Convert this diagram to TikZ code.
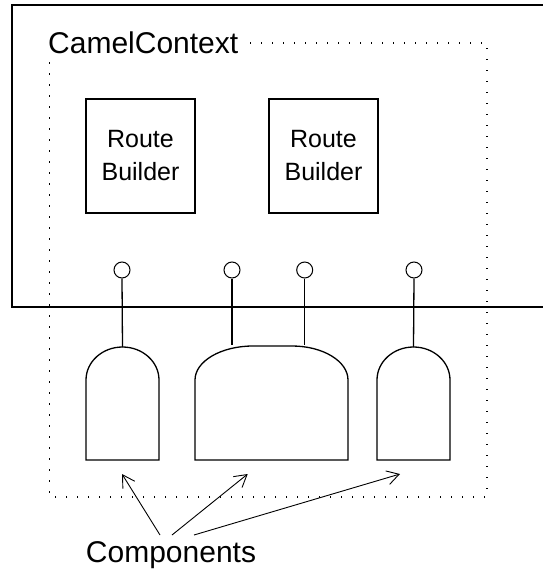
\documentclass[tikz,border=0pt]{standalone}
\usepackage{fontspec}
\setmainfont{Liberation Sans}
\usetikzlibrary{arrows.meta}
\begin{document}
\begin{tikzpicture}[x=1pt,y=-1pt,
  frame/.style={line width=1.5pt},
  routebox/.style={draw,line width=1.3pt,minimum width=109pt,minimum height=114pt,
    inner sep=0pt,align=center,font=\fontsize{25}{33}\selectfont},
  port/.style={circle,draw,line width=1pt,minimum size=16pt,inner sep=0pt},
  comp/.style={draw,line width=1.3pt},
  wire/.style={line width=1.3pt},
  pointer/.style={line width=0.9pt,-{Straight Barb[length=12pt,width=14pt,line width=0.9pt]}},
  big/.style={font=\fontsize{30}{36}\selectfont,inner sep=0pt}]
\useasboundingbox (0,0) rectangle (542,570);
\fill[white] (0,0) rectangle (542,570);

% solid context frame, open to the right
\draw[frame] (543,5) -- (12,5) -- (12,307) -- (543,307);

% dotted boundary of the CamelContext
\draw[line width=1.1pt,dash pattern=on 1.1pt off 9.9pt]
  (250,43) -- (487,43) -- (487,497) -- (49.5,497) -- (49.5,62);
\node[big,anchor=base west] (ctx) at (48,53) {CamelContext};

% route builders
\node[routebox] (rb1) at (140.5,156) {Route\\Builder};
\node[routebox] (rb2) at (323.5,156) {Route\\Builder};

% endpoints
\node[port] (p1) at (122,270) {};
\node[port] (p2) at (232,270) {};
\node[port] (p3) at (304.7,270) {};
\node[port] (p4) at (414,270) {};

% components
\draw[comp] (86,460) -- (86,380) arc[start angle=180,end angle=0,x radius=36.5,y radius=-33]
  -- (159,460) -- cycle;
\coordinate (c1) at (122.5,347);
\draw[comp] (195,460) -- (195,380) arc[start angle=180,end angle=90,x radius=58,y radius=-34]
  -- (292,346) arc[start angle=90,end angle=0,x radius=56,y radius=-34] -- (348,460) -- cycle;
\coordinate (c2a) at (232,345);
\coordinate (c2b) at (304.7,345);
\draw[comp] (377,460) -- (377,380) arc[start angle=180,end angle=0,x radius=36.5,y radius=-33]
  -- (450,460) -- cycle;
\coordinate (c3) at (413.5,347);

\draw[wire] (p1.south) -- (c1);
\draw[wire] (p2.south) -- (c2a);
\draw[wire] (p3.south) -- (c2b);
\draw[wire] (p4.south) -- (c3);

% label with pointers
\node[big,anchor=base] (lbl) at (171,562) {Components};
\coordinate (a1s) at (160,535);
\coordinate (a2s) at (172,535);
\coordinate (a3s) at (194,535);
\coordinate (t1) at (122,474);
\coordinate (t2) at (247.7,474);
\coordinate (t3) at (400,474);
\draw[pointer] (a1s) -- (t1);
\draw[pointer] (a2s) -- (t2);
\draw[pointer] (a3s) -- (t3);
\end{tikzpicture}
\end{document}
